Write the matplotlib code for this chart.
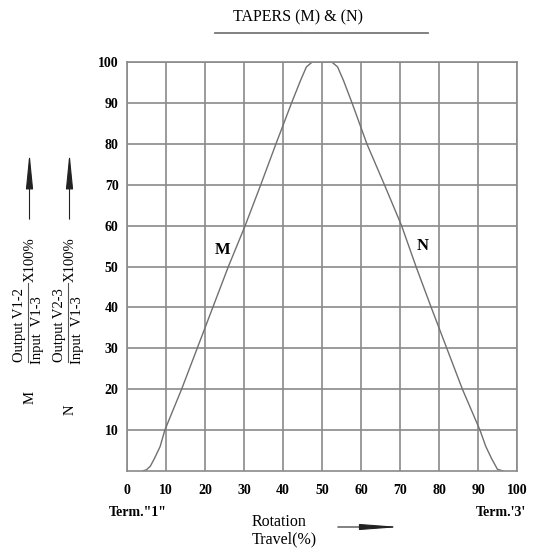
import matplotlib
matplotlib.use('Agg')
from matplotlib import pyplot as plt
from matplotlib.lines import Line2D
from matplotlib.patches import FancyArrowPatch

# taper curve (rotation % vs output %)
travel = [4, 5, 6, 7, 8.5, 9.7, 14, 18, 22, 26, 30.3, 34.3, 38.2, 42.2,
          44.5, 46, 47.5, 52.5, 54, 55.5, 57.7, 61.5, 66, 70.4, 74.1, 78, 82,
          86, 90.5, 92, 93.5, 95, 96.5]
output = [0, 0.3, 1.2, 3, 6, 10, 20, 30, 40, 50, 60, 70, 80, 90,
          95.5, 98.8, 100, 100, 98.8, 95.5, 90, 80, 70, 60, 50, 40, 30,
          20, 10, 6, 3, 0.4, 0]

x_ticks = [0, 10, 20, 30, 40, 50, 60, 70, 80, 90, 100]
y_ticks = [10, 20, 30, 40, 50, 60, 70, 80, 90, 100]

W, H = 535, 548
serif = ['Liberation Serif', 'DejaVu Serif']
plt.rcParams['font.family'] = serif

fig = plt.figure(figsize=(W / 100, H / 100), dpi=100)


def px(x, y):
    # pixel position (from top-left) to figure fraction
    return x / W, 1 - y / H


ax = fig.add_axes([127 / W, 1 - 471 / H, 390 / W, 409 / H])
ax.plot(travel, output, c='#707070', lw=1.0)
ax.set_xlim(0, 100)
ax.set_ylim(0, 100)
ax.set_xticks(x_ticks)
ax.set_yticks(y_ticks)
ax.grid(True, color='#8a8a8a', lw=1.2)
for s in ax.spines.values():
    s.set_color('#8a8a8a')
    s.set_linewidth(1.2)
ax.tick_params(length=0, labelsize=10, pad=6)
ax.tick_params(axis='x', pad=9)
for lab in ax.get_xticklabels() + ax.get_yticklabels():
    lab.set_fontweight('bold')

ax.text(24.4, 54, 'M', fontsize=12, fontweight='bold', ha='center', va='center')
ax.text(75.9, 55, 'N', fontsize=12, fontweight='bold', ha='center', va='center')

# title with rule underneath
fig.text(*px(298, 17), 'TAPERS (M) & (N)', fontsize=11.5, ha='center', va='center')
fig.add_artist(Line2D([215 / W, 428 / W], [1 - 33 / H] * 2, color='#777777', lw=1.3))

# vertical axis captions: (bar x, letter, numerator, letter y)
for bx, name, top, ly in [(28, 'M', 'Output V1-2', 398), (68, 'N', 'Output V2-3', 410)]:
    fig.text(*px(bx + 2, ly), name, fontsize=10.5, rotation=90, ha='center', va='center')
    fig.text(*px(bx - 8, 325), top, fontsize=10.5, rotation=90, ha='center', va='center')
    fig.text(*px(bx + 9, 330), 'Input  V1-3', fontsize=10.5, rotation=90,
             ha='center', va='center')
    fig.add_artist(Line2D([bx / W] * 2, [1 - 362 / H, 1 - 283 / H],
                          color='#555555', lw=0.8))
    fig.text(*px(bx + 2, 260), 'X100%', fontsize=10.5, rotation=90, ha='center', va='center')
    fig.add_artist(FancyArrowPatch(px(bx + 1.5, 222), px(bx + 1.5, 150),
                                   transform=fig.transFigure,
                                   arrowstyle='-|>,head_length=2.2,head_width=0.22',
                                   mutation_scale=10, color='#222222', lw=0.8))

# bottom captions
fig.text(*px(109, 513), 'Term."1"', fontsize=10, fontweight='bold', ha='left', va='center')
fig.text(*px(476, 512), "Term.'3'", fontsize=10, fontweight='bold', ha='left', va='center')
fig.text(*px(252, 522), 'Rotation', fontsize=11.5, ha='left', va='center')
fig.text(*px(252, 539), 'Travel(%)', fontsize=11.5, ha='left', va='center')
fig.add_artist(FancyArrowPatch(px(335, 527), px(403, 527), transform=fig.transFigure,
                               arrowstyle='-|>,head_length=2.4,head_width=0.18',
                               mutation_scale=10, color='#222222', lw=0.8))

fig.savefig('out.png', dpi=100)
